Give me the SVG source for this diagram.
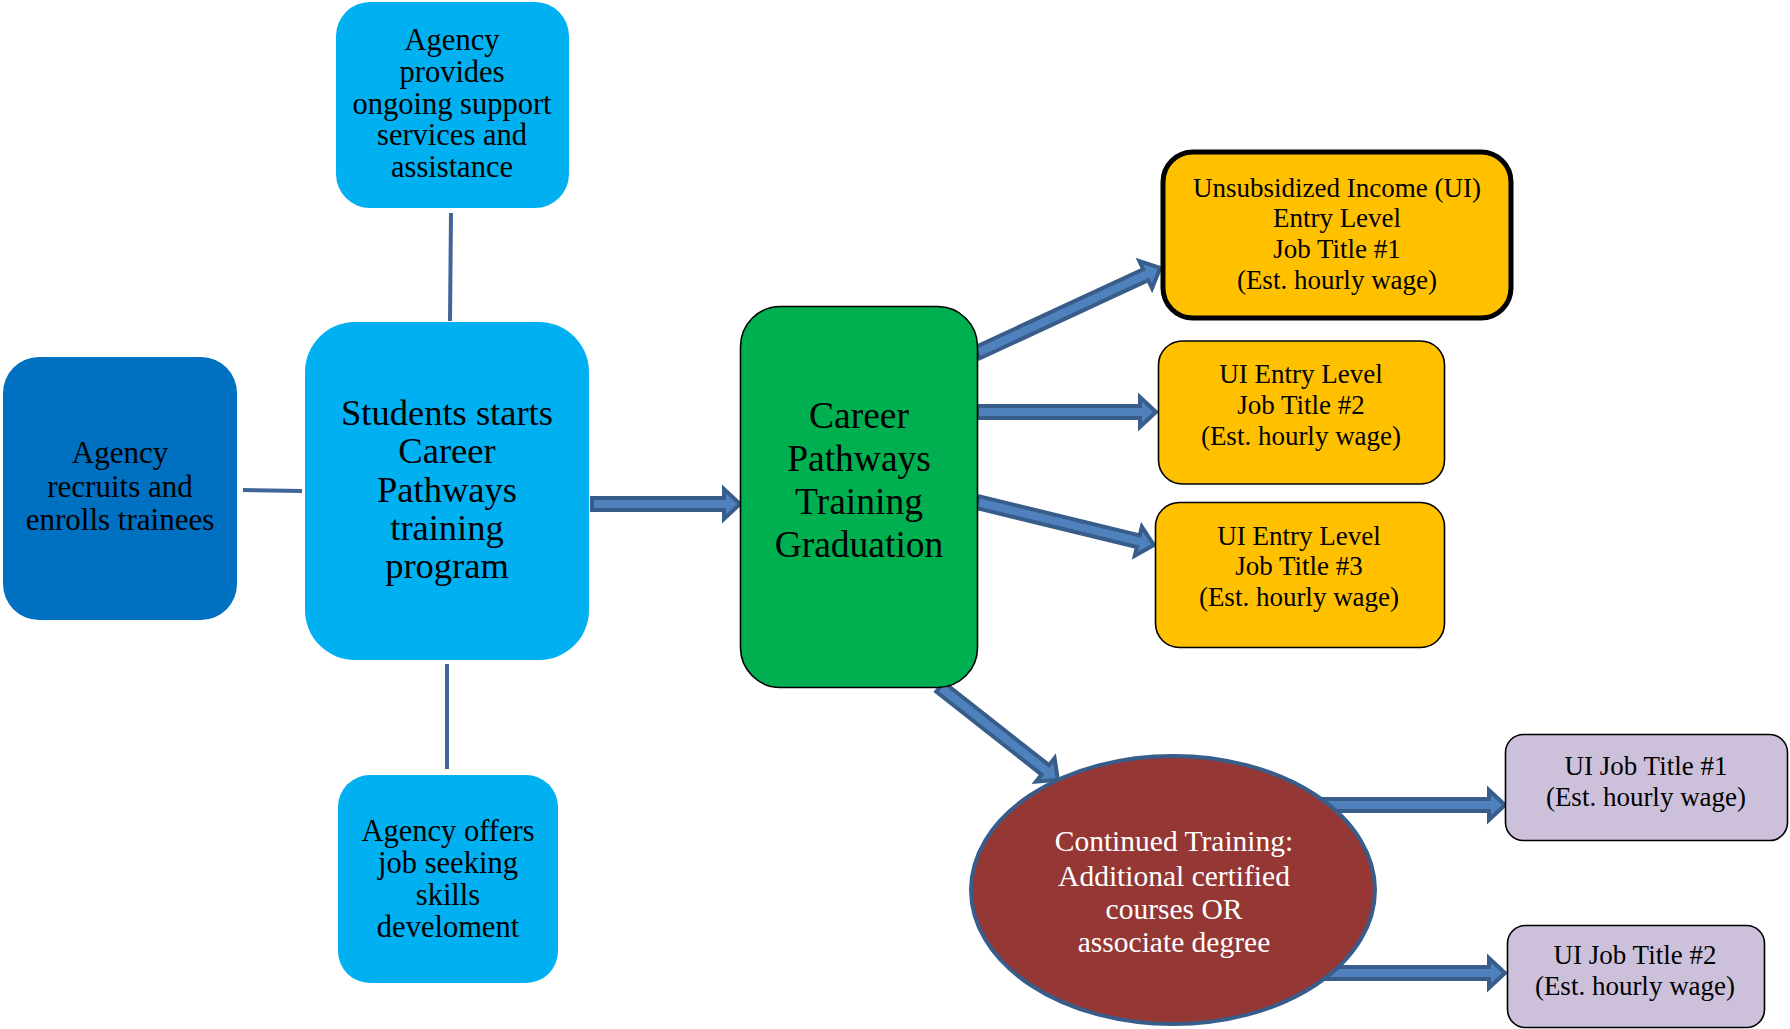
<svg xmlns="http://www.w3.org/2000/svg" width="1790" height="1029" viewBox="0 0 1790 1029">
<style>
text{font-family:"Liberation Serif","Times New Roman",serif;text-anchor:middle;fill:#000}
.t28{font-size:30.5px}
.t31{font-size:31px}
.t33{font-size:36.5px}
.t36{font-size:37.5px}
.t26{font-size:27px}
.tw{font-size:29.5px;fill:#fff}
.ln{stroke:#41659A;stroke-width:4;fill:none}
.ba{fill:#4F81BD;stroke:#385D8A;stroke-width:4;stroke-linejoin:miter}
.lb{fill:#00B0F0}
.yl{fill:#FFC000;stroke:#000;stroke-width:1.6}
.pp{fill:#CCC0DA;stroke:#000;stroke-width:1.6}
</style>
<rect width="1790" height="1029" fill="#fff"/>
<g id="connectors">
<line class="ln" x1="451" y1="213" x2="450" y2="321"/>
<line class="ln" x1="243" y1="490" x2="302" y2="491"/>
<line class="ln" x1="447" y1="664" x2="447" y2="769"/>
<polygon class="ba" points="592,498 724,498 724,489 740,504 724,519 724,510 592,510"/>
<polygon class="ba" transform="translate(977,353) rotate(-24.9)" points="0,-6 186,-6 186,-15 202,0 186,15 186,6 0,6"/>
<polygon class="ba" points="977,406 1140,406 1140,397 1156,412 1140,427 1140,418 977,418"/>
<polygon class="ba" transform="translate(977,502) rotate(13.66)" points="0,-6 166,-6 166,-15 182,0 166,15 166,6 0,6"/>
<polygon class="ba" transform="translate(940,687) rotate(38.2)" points="0,-6 134,-6 134,-15 150,0 134,15 134,6 0,6"/>
<polygon class="ba" points="1310,799 1489,799 1489,790 1505,805 1489,820 1489,811 1310,811"/>
<polygon class="ba" points="1310,967 1489,967 1489,958 1505,973 1489,988 1489,979 1310,979"/>
</g>
<g id="agency-support">
<rect class="lb" x="336" y="2" width="233" height="206" rx="34"/>
<text class="t28" x="452"><tspan x="452" y="50">Agency</tspan><tspan x="452" y="82">provides</tspan><tspan x="452" y="114">ongoing support</tspan><tspan x="452" y="145">services and</tspan><tspan x="452" y="177">assistance</tspan></text>
</g>
<g id="agency-recruits">
<rect x="3" y="357" width="234" height="263" rx="36" fill="#0070C0"/>
<text class="t31" x="120"><tspan x="120" y="463">Agency</tspan><tspan x="120" y="497">recruits and</tspan><tspan x="120" y="530">enrolls trainees</tspan></text>
</g>
<g id="students-start">
<rect class="lb" x="305" y="322" width="284" height="338" rx="50"/>
<text class="t33" x="447"><tspan x="447" y="425">Students starts</tspan><tspan x="447" y="463">Career</tspan><tspan x="447" y="502">Pathways</tspan><tspan x="447" y="540">training</tspan><tspan x="447" y="578">program</tspan></text>
</g>
<g id="agency-offers">
<rect class="lb" x="338" y="775" width="220" height="208" rx="32"/>
<text class="t28" x="448"><tspan x="448" y="841">Agency offers</tspan><tspan x="448" y="873">job seeking</tspan><tspan x="448" y="905">skills</tspan><tspan x="448" y="937">develoment</tspan></text>
</g>
<g id="graduation">
<rect x="740.5" y="306.5" width="237" height="381" rx="40" fill="#00B050" stroke="#000" stroke-width="1.6"/>
<text class="t36" x="859"><tspan x="859" y="428">Career</tspan><tspan x="859" y="471">Pathways</tspan><tspan x="859" y="514">Training</tspan><tspan x="859" y="557">Graduation</tspan></text>
</g>
<g id="ui-job-1">
<rect x="1163" y="152" width="348" height="166" rx="30" fill="#FFC000" stroke="#000" stroke-width="5"/>
<text class="t26" x="1337"><tspan x="1337" y="197">Unsubsidized Income (UI)</tspan><tspan x="1337" y="227">Entry Level</tspan><tspan x="1337" y="258">Job Title #1</tspan><tspan x="1337" y="289">(Est. hourly wage)</tspan></text>
</g>
<g id="ui-job-2">
<rect class="yl" x="1158.5" y="341" width="286" height="143" rx="24"/>
<text class="t26" x="1301"><tspan x="1301" y="383">UI Entry Level</tspan><tspan x="1301" y="414">Job Title #2</tspan><tspan x="1301" y="445">(Est. hourly wage)</tspan></text>
</g>
<g id="ui-job-3">
<rect class="yl" x="1155.5" y="502.5" width="289" height="145" rx="24"/>
<text class="t26" x="1299"><tspan x="1299" y="545">UI Entry Level</tspan><tspan x="1299" y="575">Job Title #3</tspan><tspan x="1299" y="606">(Est. hourly wage)</tspan></text>
</g>
<g id="continued-training">
<ellipse cx="1173" cy="890" rx="202" ry="134" fill="#953735" stroke="#385D8A" stroke-width="4"/>
<text class="tw" x="1174"><tspan x="1174" y="851">Continued Training:</tspan><tspan x="1174" y="886">Additional certified</tspan><tspan x="1174" y="919">courses OR</tspan><tspan x="1174" y="952">associate degree</tspan></text>
</g>
<g id="ui-title-1">
<rect class="pp" x="1505.5" y="734.5" width="282" height="106" rx="18"/>
<text class="t26" x="1646"><tspan x="1646" y="775">UI Job Title #1</tspan><tspan x="1646" y="806">(Est. hourly wage)</tspan></text>
</g>
<g id="ui-title-2">
<rect class="pp" x="1507.5" y="925.5" width="257" height="102" rx="18"/>
<text class="t26" x="1635"><tspan x="1635" y="964">UI Job Title #2</tspan><tspan x="1635" y="995">(Est. hourly wage)</tspan></text>
</g>
</svg>
